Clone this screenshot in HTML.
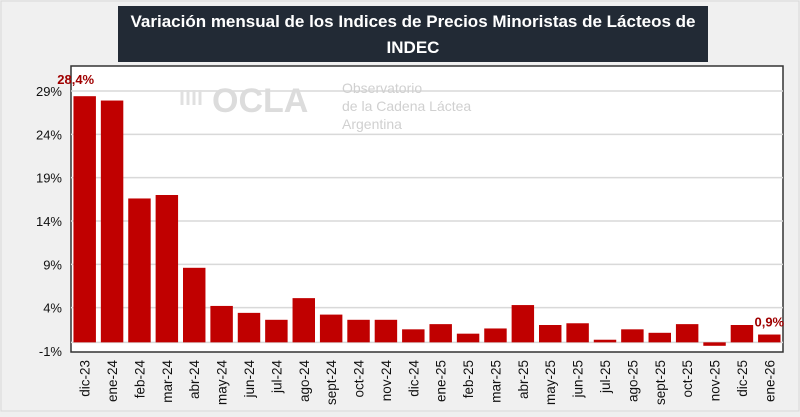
<!DOCTYPE html>
<html><head><meta charset="utf-8"><style>
body{margin:0;width:800px;height:412px;background:#efefef;font-family:"Liberation Sans",sans-serif;overflow:hidden}
</style></head><body>
<svg id="c" width="800" height="412" xmlns="http://www.w3.org/2000/svg">
<rect x="1" y="1" width="798" height="410" fill="#f0f0f0" stroke="#d8d8d8"/>
<rect x="71" y="66" width="712" height="286" fill="#fff" stroke="#333" stroke-width="1.5"/>
<g id="grid"></g>
<g fill="#d6d6d6">
<text x="212" y="112" font-size="34" font-weight="bold" fill="#dcdcdc">OCLA</text>
<path d="M182 105 v-15 M188 90 v15 M194 105 v-15 M200 90 v15" stroke="#e0e0e0" stroke-width="3" fill="none"/>
<text x="342" y="93" font-size="14" fill="#d0d0d0">Observatorio</text>
<text x="342" y="111" font-size="14" fill="#d0d0d0">de la Cadena Láctea</text>
<text x="342" y="129" font-size="14" fill="#d0d0d0">Argentina</text>
</g>
<g id="bars"></g>
<g id="yax"></g>
<g id="xax"></g>
<rect x="118" y="6" width="590" height="56" fill="#222a35"/>
<text x="413" y="27" text-anchor="middle" font-size="17" font-weight="bold" fill="#fff">Variación mensual de los Indices de Precios Minoristas de Lácteos de</text>
<text x="413" y="53" text-anchor="middle" font-size="17" font-weight="bold" fill="#fff">INDEC</text>
</svg>
<script>
const categories=["dic-23","ene-24","feb-24","mar-24","abr-24","may-24","jun-24","jul-24","ago-24","sept-24","oct-24","nov-24","dic-24","ene-25","feb-25","mar-25","abr-25","may-25","jun-25","jul-25","ago-25","sept-25","oct-25","nov-25","dic-25","ene-26"];
const values=[28.4,27.9,16.6,17.0,8.6,4.2,3.4,2.6,5.1,3.2,2.6,2.6,1.5,2.1,1.0,1.6,4.3,2.0,2.2,0.3,1.5,1.1,2.1,-0.4,2.0,0.9];
const yTicks=[-1,4,9,14,19,24,29];
const labelIdx=[0,25];
const NS="http://www.w3.org/2000/svg";
const x0=71,x1=783;
const band=(x1-x0)/categories.length;
const y=v=>351-(v+1)*(260/30);
const xc=i=>x0+band*(i+0.5);
function mk(t,a,p){const e=document.createElementNS(NS,t);for(const k in a)e.setAttribute(k,a[k]);document.getElementById(p).appendChild(e);return e;}
yTicks.forEach(t=>{
 if(t>-1){const g=mk('line',{x1:x0,x2:x1,y1:y(t),y2:y(t),stroke:'#d9d9d9','stroke-width':1.5},'grid');
 
 }
 const l=mk('text',{x:62,y:y(t)+5,'text-anchor':'end','font-size':13,fill:'#111'},'yax');
 l.textContent=t+'%';
 
 
});
const z=mk('line',{x1:x0,x2:x1,y1:y(0),y2:y(0),stroke:'#d9d9d9','stroke-width':1.5},'grid');


const bw=band*0.82;
values.forEach((v,i)=>{
 const top=Math.min(y(v),y(0)),bot=Math.max(y(v),y(0));
 const r=mk('rect',{x:xc(i)-bw/2,y:top,width:bw,height:Math.max(bot-top,2),fill:'#c00000'},'bars');
 
 
 const t=mk('text',{transform:`translate(${xc(i)+5},${360}) rotate(-90)`,'text-anchor':'end','font-size':13.5,fill:'#111'},'xax');
 t.textContent=categories[i];
 
 
});
labelIdx.forEach((i,k)=>{
 const t=mk('text',{x:xc(i)+(k===0?-9:0),y:y(values[i])-(k===0?12:8),'text-anchor':'middle','font-size':13,'font-weight':'bold',fill:'#a00000'},'bars');
 t.textContent=String(values[i]).replace('.',',')+'%';
 
 
});
</script>
</body></html>
